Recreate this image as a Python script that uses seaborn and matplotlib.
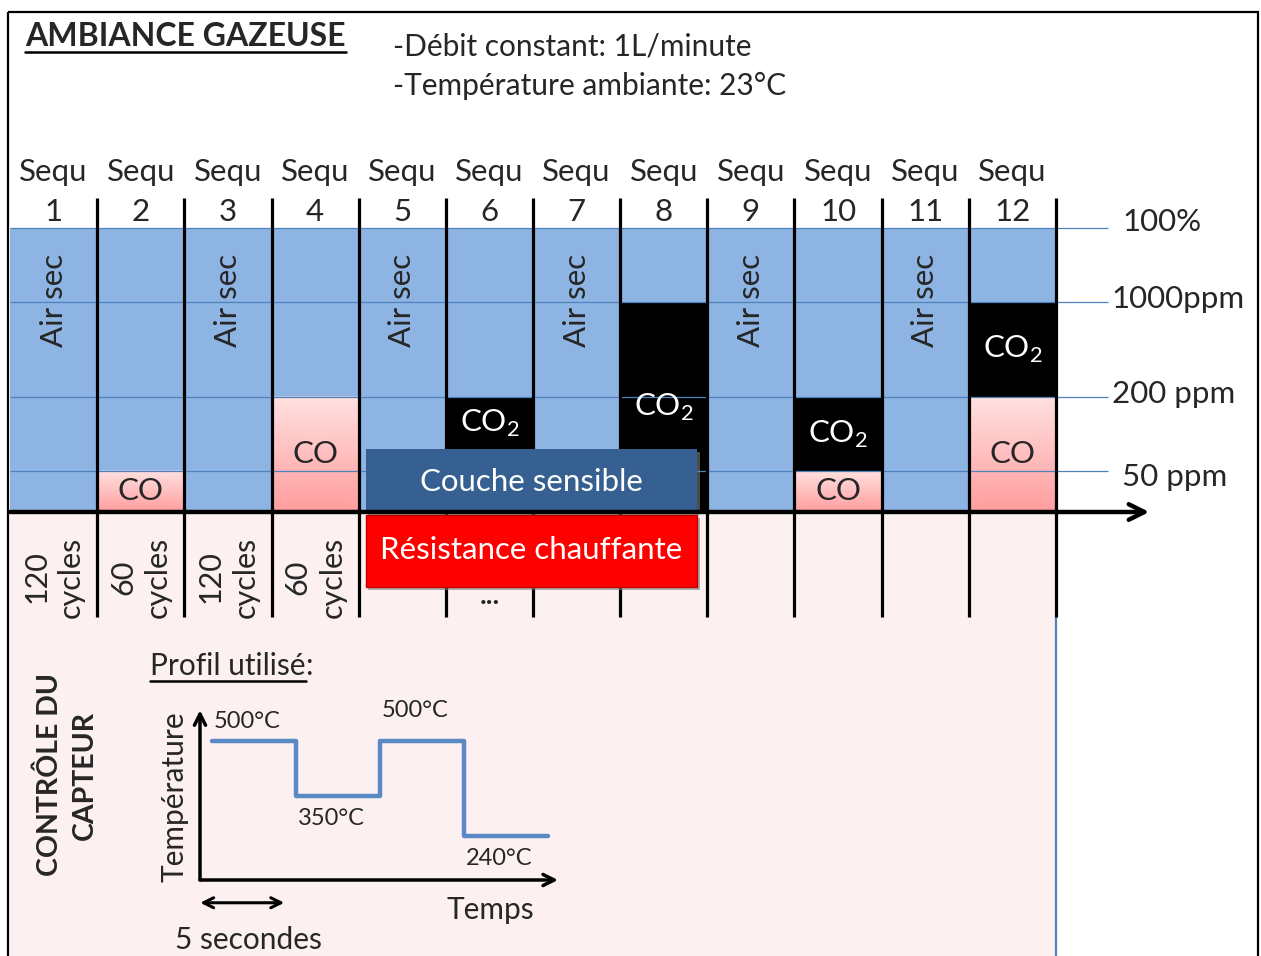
import numpy as np
import matplotlib
matplotlib.use("Agg")
import matplotlib.pyplot as plt
import matplotlib.patheffects as pe
from matplotlib.patches import Rectangle
from matplotlib.colors import LinearSegmentedColormap
from matplotlib.transforms import blended_transform_factory
import seaborn as sns

# ---- values ----
seq_numbers = [1, 2, 3, 4, 5, 6, 7, 8, 9, 10, 11, 12]
co_ppm = [0, 50, 0, 200, 0, 0, 0, 0, 0, 50, 0, 200]
co2_top_ppm = [0, 0, 0, 0, 0, 200, 0, 1000, 0, 200, 0, 1000]  # upper edge of the CO2 band
air_sec_seq = [1, 3, 5, 7, 9, 11]
cycle_counts = [120, 60, 120, 60]
level_ppm = [50, 200, 1000, 1000000]
level_names = ['50 ppm', '200 ppm', '1000ppm', '100%']
profile_temps = [500, 350, 500, 240]
profile_step_s = 5

# ---- look ----
sns.set_theme(style='white')
plt.rcParams['font.family'] = ['Lato', 'DejaVu Sans']
plt.rcParams['mathtext.fontset'] = 'custom'
plt.rcParams['mathtext.rm'] = 'Lato'

W, H = 1261, 956
BLUE = '#8DB4E2'
LINE_BLUE = '#4F81BD'
PINK_BG = '#FCF0F0'
pink_cmap = LinearSegmentedColormap.from_list('pink', ['#FFE0E0', '#FF9C9C'])
FS = 22.5

# concentration ruler: ppm -> height in pixels above the time axis
ruler_ppm = [0, 50, 200, 1000, 1000000]
ruler_px = [0, 41, 115, 210, 284]
def fwd(v):
    return np.interp(v, ruler_ppm, ruler_px)
def inv(p):
    return np.interp(p, ruler_px, ruler_ppm)

def frac(x0, y0, x1, y1):
    return [x0 / W, 1 - y1 / H, (x1 - x0) / W, (y1 - y0) / H]

fig = plt.figure(figsize=(W / 100, H / 100), dpi=100)

# overlay axes in pixel units, for frame and free text
ax0 = fig.add_axes([0, 0, 1, 1], zorder=0)
ax0.set_xlim(0, W)
ax0.set_ylim(H, 0)
ax0.axis('off')

# gas ambiance axes: x in sequences, y in ppm
ax = fig.add_axes(frac(10, 228, 1056, 512), zorder=1)
ax.set_yscale('function', functions=(fwd, inv))
ax.set_xlim(0, 12)
ax.set_ylim(0, 1000000)
ax.axis('off')
tr = blended_transform_factory(ax.transData, ax0.transData)

n = len(seq_numbers)
centers = np.arange(n) + 0.5
co = np.array(co_ppm)
co2 = np.array(co2_top_ppm)

# sensor control panel background
ax0.add_patch(Rectangle((0, 515), 12, 450, transform=tr, color=PINK_BG, lw=0, zorder=0))
ax0.plot([12, 12], [617, 960], transform=tr, color=LINE_BLUE, lw=1.6, zorder=1)
ax0.add_patch(Rectangle((8, 12), 1250, 960, fill=False, ec='black', lw=1.6, clip_on=False))

# bars
ax.bar(centers, 1000000, width=1, color=BLUE, lw=0, zorder=1)
m = co > 0
co_bars = ax.bar(centers[m], co[m], width=1, color='#FFC0C0', lw=0, zorder=2)
for p in co_bars.patches:
    x0, x1 = p.get_x(), p.get_x() + p.get_width()
    y0, y1 = p.get_y(), p.get_y() + p.get_height()
    ax.pcolormesh([[x0, x1], [x0, x1]], [[y0, y0], [y1, y1]], [[1, 1], [0, 0]],
                  shading='gouraud', cmap=pink_cmap, vmin=0, vmax=1, zorder=2)
m2 = co2 > 0
ax.bar(centers[m2], co2[m2] - co[m2], bottom=co[m2], width=1, color='black', lw=0, zorder=2)

# concentration levels
ax.hlines(level_ppm, 0, 12.6, colors=LINE_BLUE, lw=0.9, zorder=3, clip_on=False)
label_dx = {'1000ppm': 12.64, '200 ppm': 12.64, '50 ppm': 12.76, '100%': 12.76}
label_dy = {'1000ppm': 2, '200 ppm': 2, '50 ppm': -4, '100%': 4}
for lv, name in zip(level_ppm, level_names):
    ax.annotate(name, xy=(label_dx[name], lv), xytext=(0, label_dy[name]), textcoords='offset points',
                fontsize=FS, ha='left', va='center', annotation_clip=False)

# sequence separators
ax.vlines(np.arange(1, n + 1), 198, 617, transform=tr, colors='black', lw=2.3, zorder=4, clip_on=False)

# headers
for c, s in zip(centers, seq_numbers):
    ax.text(c, 172, 'Sequ', transform=tr, fontsize=FS, ha='center', va='center')
    ax.text(c, 212, str(s), transform=tr, fontsize=FS, ha='center', va='center')

for s in air_sec_seq:
    ax.text(s - 0.5, 300, 'Air sec', transform=tr, rotation=90, fontsize=FS,
            ha='center', va='center')

# gas labels
box_top = 512 - 449
def band_mid(lo, hi, i):
    a, b = fwd(lo), fwd(hi)
    if 4 <= i <= 7 and (a + b) / 2 < box_top:
        a = box_top
    return inv((a + b) / 2)

for i in range(n):
    if co[i] > 0:
        ax.text(centers[i], band_mid(0, co[i], i), 'CO', fontsize=FS, ha='center', va='center', zorder=6)
    if co2[i] > 0:
        ax.text(centers[i], band_mid(co[i], co2[i], i), 'CO$_\\mathregular{2}$', color='white',
                fontsize=FS, ha='center', va='center', zorder=6)

# time axis
ax.annotate('', xy=(13.07, 0), xytext=(0, 0), annotation_clip=False,
            arrowprops=dict(arrowstyle='->', lw=3.2, color='black', mutation_scale=28,
                            shrinkA=0, shrinkB=0), zorder=7)

shadow = [pe.SimplePatchShadow(offset=(2, -2), shadow_rgbFace='#7F7F7F', alpha=0.6), pe.Normal()]
ax.add_patch(Rectangle((4.08, 449), 3.8, 63, transform=tr, color='#376092', lw=0,
                       zorder=5, clip_on=False, path_effects=shadow))
ax.text(5.98, 482, 'Couche sensible', transform=tr, color='white', fontsize=FS,
        ha='center', va='center', zorder=6)
ax.add_patch(Rectangle((4.08, 515), 3.8, 72, transform=tr, fc='#FF0000', ec='#C00000', lw=1,
                       zorder=5, clip_on=False, path_effects=shadow))
ax.text(5.98, 550, 'Résistance chauffante', transform=tr, color='white', fontsize=FS,
        ha='center', va='center', zorder=6)
ax.text(5.5, 596, '...', transform=tr, fontsize=20, fontweight='bold', ha='center', va='center')

for i, c in enumerate(cycle_counts):
    ax.text(i + 0.5, 577, f'{c}\ncycles', transform=tr, rotation=90, fontsize=22,
            ha='center', va='center', multialignment='center', linespacing=1.3)

# top texts
title = ax0.text(25, 46, 'AMBIANCE GAZEUSE', fontsize=23, fontweight='bold', va='baseline')
ax0.text(393, 55, '-Débit constant: 1L/minute', fontsize=21.5, va='baseline')
ax0.text(393, 95, '-Température ambiante: 23°C', fontsize=21.5, va='baseline')

prof = ax0.text(150, 675, 'Profil utilisé', fontsize=21.5, va='baseline')
ax0.annotate(':', xy=(1, 0), xycoords=prof, va='bottom', ha='left', fontsize=21.5)
ax0.text(67, 775, 'CONTRÔLE DU\nCAPTEUR', rotation=90, fontsize=20.5, fontweight='bold',
         ha='center', va='center', multialignment='center', linespacing=1.4)

# heating profile
axm = fig.add_axes(frac(200, 705, 558, 880), zorder=2)
axm.axis('off')
t = np.arange(len(profile_temps) + 1) * profile_step_s
temps = profile_temps + [profile_temps[-1]]
sns.lineplot(x=t, y=temps, drawstyle='steps-post', color='#5A8AC6', lw=3.2, ax=axm)
axm.set_xlim(-0.714, 20.6)
axm.set_ylim(119.6, 598.5)
axm.annotate('', xy=(0, 0.97), xytext=(0, 0), xycoords='axes fraction',
             arrowprops=dict(arrowstyle='->', lw=2.5, color='black', mutation_scale=20,
                             shrinkA=0, shrinkB=0))
axm.annotate('', xy=(1.0, 0), xytext=(0, 0), xycoords='axes fraction',
             arrowprops=dict(arrowstyle='->', lw=2.5, color='black', mutation_scale=20,
                             shrinkA=0, shrinkB=0))
offsets = [14, -16, 22, -16]
for k, temp in enumerate(profile_temps):
    axm.annotate(f'{temp}°C', xy=(t[k] + profile_step_s / 2 - 0.4, temp), xytext=(0, offsets[k]),
                 textcoords='offset points', fontsize=17, ha='center', va='center')
axm.text(-0.07, 0.474, 'Température', transform=axm.transAxes, rotation=90, fontsize=21.5,
         ha='center', va='center')
axm.text(0.81, -0.171, 'Temps', transform=axm.transAxes, fontsize=21.5, ha='center', va='center')
axm.annotate('', xy=(-0.7 + profile_step_s, -0.13), xytext=(-0.7, -0.13),
             xycoords=('data', 'axes fraction'),
             arrowprops=dict(arrowstyle='<->', lw=2.2, color='black', mutation_scale=18,
                             shrinkA=0, shrinkB=0), annotation_clip=False)
axm.text(0.135, -0.343, '5 secondes', transform=axm.transAxes, fontsize=21.5, ha='center', va='center')

# underlines
fig.canvas.draw()
r = fig.canvas.get_renderer()
to_px = ax0.transData.inverted()
for txt, gap in [(title, 6), (prof, 6)]:
    bb = txt.get_window_extent(r)
    (xa, _), (xb, _) = to_px.transform([(bb.x0, bb.y0), (bb.x1, bb.y0)])
    _, base = txt.get_position()
    ax0.plot([xa, xb], [base + gap, base + gap], color='black', lw=1.8)

fig.savefig('out.png', dpi=100)
